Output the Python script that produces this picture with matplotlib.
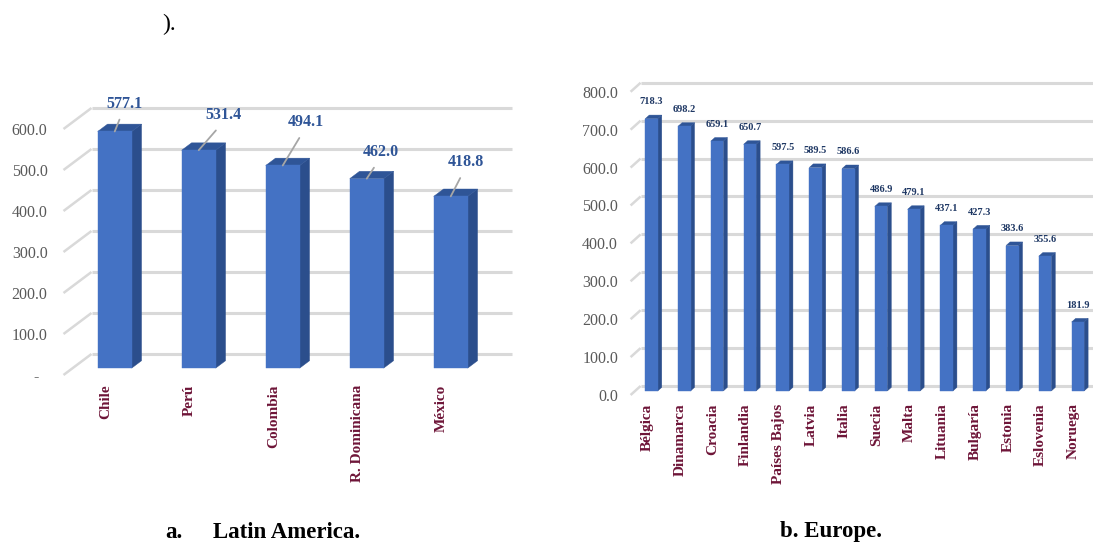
import matplotlib
matplotlib.use("Agg")
import matplotlib.pyplot as plt
from matplotlib.patches import Polygon
import numpy as np

plt.rcParams['font.family'] = ['Liberation Serif', 'DejaVu Serif']

# data
latam_countries = ["Chile", "Perú", "Colombia", "R. Dominicana", "México"]
latam_values = [577.1, 531.4, 494.1, 462.0, 418.8]
latam_ticks = [0, 100, 200, 300, 400, 500, 600]

europe_countries = ["Bélgica", "Dinamarca", "Croacia", "Finlandia", "Países Bajos",
                    "Latvia", "Italia", "Suecia", "Malta", "Lituania", "Bulgaría",
                    "Estonia", "Eslovenia", "Noruega"]
europe_values = [718.3, 698.2, 659.1, 650.7, 597.5, 589.5, 586.6, 486.9, 479.1,
                 437.1, 427.3, 383.6, 355.6, 181.9]
europe_ticks = [0, 100, 200, 300, 400, 500, 600, 700, 800]

# label nudges (points) for the hand placed labels of chart a
latam_label_offsets = [(7, 20), (18, 25), (16.5, 31), (10, 19), (11, 24.5)]

W, H = 1093, 544
FRONT = '#4472C4'
SIDE = '#2B4E8C'
TOP = '#2F5597'
GRID = '#D9D9D9'
CAT_COLOR = '#6E1538'
TICK_COLOR = '#595959'


def px_axes(fig, left, right, top, bottom):
    return fig.add_axes([left / W, (H - bottom) / H, (right - left) / W, (bottom - top) / H])


def draw_3d(ax, values, ticks, dx, dy, d0, d1, width, x_end):
    n = len(values)
    # back wall grid + diagonals
    for t in ticks:
        ax.plot([-0.5, -0.5 + dx], [t, t + dy], color=GRID, lw=1.8,
                solid_capstyle='butt', clip_on=False, zorder=1)
        ax.plot([-0.5 + dx, x_end + dx], [t + dy, t + dy], color=GRID, lw=2.2,
                solid_capstyle='butt', clip_on=False, zorder=1)
    for i, v in enumerate(values):
        xl = i - width / 2
        xr = i + width / 2
        front = [(xl + d0 * dx, d0 * dy), (xr + d0 * dx, d0 * dy),
                 (xr + d0 * dx, v + d0 * dy), (xl + d0 * dx, v + d0 * dy)]
        side = [(xr + d0 * dx, d0 * dy), (xr + d1 * dx, d1 * dy),
                (xr + d1 * dx, v + d1 * dy), (xr + d0 * dx, v + d0 * dy)]
        top = [(xl + d0 * dx, v + d0 * dy), (xr + d0 * dx, v + d0 * dy),
               (xr + d1 * dx, v + d1 * dy), (xl + d1 * dx, v + d1 * dy)]
        for poly, col in ((side, SIDE), (top, TOP), (front, FRONT)):
            ax.add_patch(Polygon(poly, closed=True, facecolor=col, edgecolor=col,
                                 lw=0.3, clip_on=False, zorder=3))
    ax.set_xticks(range(n))
    for s in ax.spines.values():
        s.set_visible(False)


fig = plt.figure(figsize=(W / 100, H / 100), dpi=100)

# ---- a. Latin America ----
ax1 = px_axes(fig, 63.5, 517.1, 63.4, 375)
ax1.set_xlim(-0.5, 4.9)
ax1.set_ylim(0, 760)
dx1, dy1 = 28 / 84, 21 / 0.41
d0a, d1a = 0.33, 0.68
draw_3d(ax1, latam_values, latam_ticks, dx1, dy1, d0a, d1a, 0.405, 4.5)
ax1.set_yticks(latam_ticks)
ax1.set_yticklabels(["-  " if t == 0 else f"{t:.1f}" for t in latam_ticks],
                    fontsize=11.5, color=TICK_COLOR)
ax1.set_xticklabels(latam_countries, rotation=90, fontsize=11, fontweight='bold',
                    color=CAT_COLOR, va='top', ha='center')
ax1.tick_params(axis='y', length=0, pad=11.5)
ax1.tick_params(axis='x', length=0, pad=7)
for i, v in enumerate(latam_values):
    ax1.annotate(f"{v:.1f}", xy=(i + d0a * dx1, v + d0a * dy1),
                 xytext=latam_label_offsets[i], textcoords='offset points',
                 ha='center', va='center', fontsize=11.5, fontweight='bold',
                 color='#2F5597', zorder=5, annotation_clip=False,
                 arrowprops=dict(arrowstyle='-', color='#A6A6A6', lw=1.3,
                                 shrinkA=4, shrinkB=0, relpos=(0.45, 0.0)))

# ---- b. Europe ----
ax2 = px_axes(fig, 630.6, 1102.9, 80.4, 395)
ax2.set_xlim(-0.5, 13.9)
ax2.set_ylim(0, 830)
dx2, dy2 = 10 / 32.8, 9 / 0.379
d0b, d1b = 0.45, 0.85
draw_3d(ax2, europe_values, europe_ticks, dx2, dy2, d0b, d1b, 0.38, 14.5)
ax2.set_yticks(europe_ticks)
ax2.set_yticklabels([f"{t:.1f}" for t in europe_ticks], fontsize=11.5, color=TICK_COLOR)
ax2.set_xticklabels(europe_countries, rotation=90, fontsize=11, fontweight='bold',
                    color=CAT_COLOR, va='top', ha='center')
ax2.tick_params(axis='y', length=0, pad=9)
ax2.tick_params(axis='x', length=0, pad=6)
for i, v in enumerate(europe_values):
    ax2.annotate(f"{v:.1f}", xy=(i + d0b * dx2, v + d1b * dy2),
                 xytext=(0, 9.5), textcoords='offset points',
                 ha='center', va='center', fontsize=7.5, fontweight='bold',
                 color='#1F3864', zorder=5, annotation_clip=False)

# captions
fig.text(162 / W, 1 - 24 / H, ").", fontsize=17, va='center', ha='left', color='black')
fig.text(165 / W, 1 - 532 / H, "a.", fontsize=16.5, fontweight='bold',
         va='center', ha='left', color='black')
fig.text(213 / W, 1 - 532 / H, "Latin America.", fontsize=16.5, fontweight='bold',
         va='center', ha='left', color='black')
fig.text(780 / W, 1 - 532 / H, "b. Europe.", fontsize=16.5, fontweight='bold',
         va='center', ha='left', color='black')

fig.savefig("out.png", dpi=100, facecolor='white')
